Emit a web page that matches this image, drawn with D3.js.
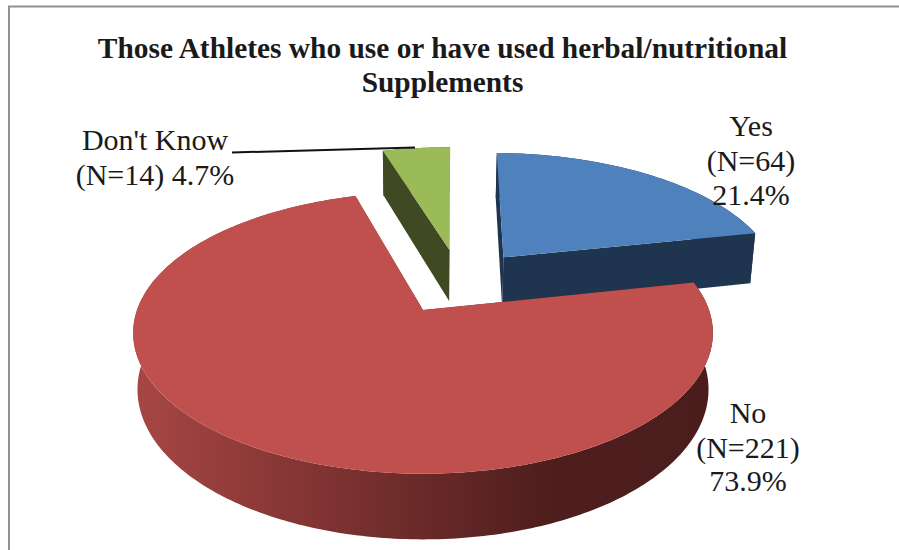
<!DOCTYPE html>
<html><head><meta charset="utf-8">
<script src="https://cdn.jsdelivr.net/npm/d3@7/dist/d3.min.js"></script>
<style>html,body{margin:0;padding:0;background:#fff;overflow:hidden}
text{font-family:"Liberation Serif",serif;fill:#1a1a1a}</style>
</head><body><svg id="c" width="899" height="550"></svg>
<script>
const categories = ["Yes","No","Don't Know"];
const counts = [64,221,14];
const percents = ["21.4%","73.9%","4.7%"];
const titleLines = ["Those Athletes who use or have used herbal/nutritional","Supplements"];
const topColors = ["#4F81BD","#C0504D","#9BBB59"];
const wallColors = ["#1F344F","url(#redWall)","#3F4A22"];
const explodeX = [0.30,0,0.10];
const explodeF = [-0.41,0,-0.472];

const svg = d3.select("#c");
const defs = svg.append("defs");
const grad = defs.append("linearGradient").attr("id","redWall").attr("gradientUnits","userSpaceOnUse")
  .attr("x1",132).attr("x2",713).attr("y1",0).attr("y2",0);
[[0,"#A84745"],[0.29,"#843534"],[0.72,"#4E1E1D"],[1,"#4A1D1C"]].forEach(s=>grad.append("stop").attr("offset",s[0]).attr("stop-color",s[1]));

// frame
svg.append("path").attr("d","M9,550V6.5H899").attr("fill","none").attr("stroke","#929292").attr("stroke-width",2);

// perspective projection of the tilted pie
const cx=423, cy=310, R=286, Ry=137, k=0.163, D=55, zShrink=0.015;
const sxScale=d3.scaleLinear().domain([0,1]).range([0,R]);
const syScale=d3.scaleLinear().domain([0,1]).range([0,Ry]);
function project(X,F,z){
  const s=1/(1-k*F);
  return [cx+sxScale(X)*s*(1-zShrink*z), cy+syScale(F)*s+D*s*z];
}
const pie=d3.pie().sort(null).startAngle(Math.PI/180).endAngle(Math.PI*2+Math.PI/180);
const arcs=pie(counts);
const line=d3.line().curve(d3.curveLinear);
function pt(i,a,r,z){
  return project(explodeX[i]+r*Math.sin(a), explodeF[i]-r*Math.cos(a), z);
}
function arcPts(i,z,rev){
  const a0=arcs[i].startAngle,a1=arcs[i].endAngle,n=Math.ceil((a1-a0)*60);
  const p=d3.range(n+1).map(j=>pt(i,a0+(a1-a0)*j/n,1,z));
  return rev?p.reverse():p;
}
function drawSlice(i){
  const g=svg.append("g");
  const a0=arcs[i].startAngle,a1=arcs[i].endAngle;
  [a0,a1].forEach(a=>{
    g.append("path").attr("fill",wallColors[i]).attr("d",line([pt(i,a,0,0),pt(i,a,1,0),pt(i,a,1,1),pt(i,a,0,1)])+"Z");
  });
  g.append("path").attr("fill",wallColors[i]).attr("d",line(arcPts(i,0,false).concat(arcPts(i,1,true)))+"Z");
  g.append("path").attr("fill",topColors[i]).attr("d",line([pt(i,a0,0,0)].concat(arcPts(i,0,false)))+"Z");
}
[2,0,1].forEach(drawSlice);

// leader
svg.append("line").attr("x1",232).attr("y1",152.5).attr("x2",415).attr("y2",147.5).attr("stroke","#111").attr("stroke-width",2);

// title
const titleY=[58,92];
titleLines.forEach((t,i)=>svg.append("text").attr("x",442.5).attr("y",titleY[i]).attr("text-anchor","middle")
  .attr("font-size",29.4).attr("font-weight","bold").text(t));

// labels
const labels=[
 {x:751,anchor:"middle",ys:[136,171,205],lines:[categories[0],`(N=${counts[0]})`,percents[0]]},
 {x:748,anchor:"middle",ys:[423,458,491],lines:[categories[1],`(N=${counts[1]})`,percents[1]]},
 {x:155,anchor:"middle",ys:[150,185],lines:[categories[2],`(N=${counts[2]}) ${percents[2]}`]}
];
labels.forEach(l=>l.lines.forEach((t,i)=>svg.append("text").attr("x",l.x).attr("y",l.ys[i]).attr("text-anchor",l.anchor).attr("font-size",30).text(t)));
</script></body></html>
